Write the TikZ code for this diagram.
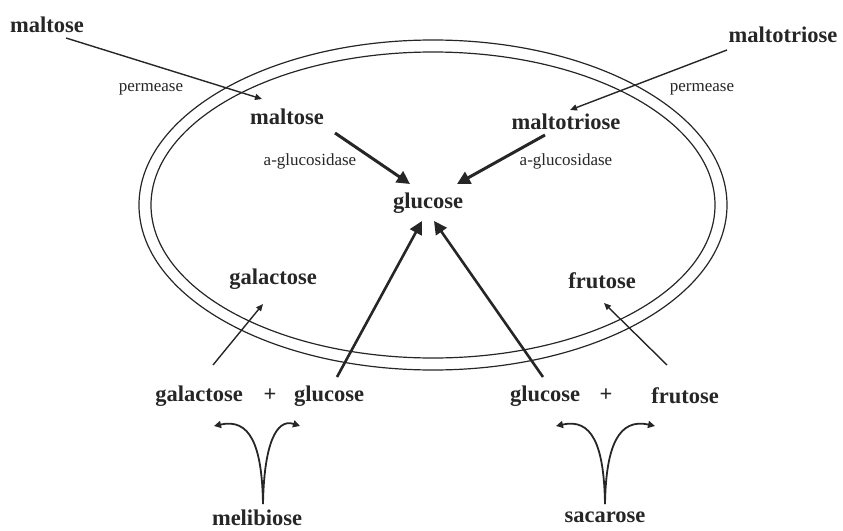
\documentclass[tikz,border=0pt]{standalone}
\usepackage{fontspec}
\setmainfont{Liberation Serif}
\usetikzlibrary{arrows.meta}
\definecolor{ink}{HTML}{262626}
\begin{document}
\begin{tikzpicture}[x=1pt,y=-1pt,
  sug/.style={font=\fontsize{22.5}{24}\selectfont\bfseries, text=ink, inner sep=0pt},
  enz/.style={font=\fontsize{17}{19}\selectfont, text=ink, inner sep=0pt},
  thinarr/.style={draw=ink, line width=1.4pt, -{Triangle[length=7pt,width=6pt]}},
  thickarr/.style={draw=ink, line width=3pt, -{Triangle[length=13pt,width=13pt]}},
  curvearr/.style={draw=ink, line width=1.8pt, -{Triangle[length=7pt,width=7pt]}},
  membrane/.style={draw=ink, line width=1.2pt}]
\useasboundingbox (0,0) rectangle (843,530);
% membrane
\draw[membrane] (433,205) ellipse [x radius=294, y radius=165];
\draw[membrane] (433,205) ellipse [x radius=282, y radius=153];
% texts
\node[sug] (mOut) at (47,25) {maltose};
\node[sug] (mtOut) at (783,35) {maltotriose};
\node[enz] (perL) at (151,89) {permease};
\node[enz] (perR) at (702,89) {permease};
\node[sug] (mIn) at (287,117) {maltose};
\node[sug] (mtIn) at (566,122) {maltotriose};
\node[enz] (gluL) at (310,161) {a-glucosidase};
\node[enz] (gluR) at (566,161) {a-glucosidase};
\node[sug] (glc) at (428,203) {glucose};
\node[sug] (galIn) at (273,279) {galactose};
\node[sug] (fruIn) at (602,281) {frutose};
\node[sug] (galOut) at (199,396) {galactose};
\node[sug] (plusL) at (270,395) {+};
\node[sug] (glcL) at (329,396) {glucose};
\node[sug] (glcR) at (545,396) {glucose};
\node[sug] (plusR) at (606,395) {+};
\node[sug] (fruOut) at (685,396) {frutose};
\node[sug] (mel) at (257,518) {melibiose};
\node[sug] (sac) at (605,517) {sacarose};
% connector end points
\coordinate (a1) at (66,38);   \coordinate (a2) at (262,99);
\coordinate (b1) at (727,50);  \coordinate (b2) at (570,110);
\coordinate (c1) at (335,133); \coordinate (c2) at (410,184);
\coordinate (d1) at (545,135); \coordinate (d2) at (457,184);
\coordinate (e1) at (337,377); \coordinate (e2) at (422,221);
\coordinate (f1) at (543,377); \coordinate (f2) at (434,221);
\coordinate (g1) at (213,365); \coordinate (g2) at (263,304);
\coordinate (h1) at (667,365); \coordinate (h2) at (604,303);
\coordinate (m0) at (263,504); \coordinate (mL) at (214,426); \coordinate (mR) at (300,426);
\coordinate (s0) at (605,504); \coordinate (sL) at (556,426); \coordinate (sR) at (655,426);
% connectors
\draw[thinarr] (a1) -- (a2);
\draw[thinarr] (b1) -- (b2);
\draw[thickarr] (c1) -- (c2);
\draw[thickarr] (d1) -- (d2);
\draw[thickarr, line width=2.6pt] (e1) -- (e2);
\draw[thickarr, line width=2.6pt] (f1) -- (f2);
\draw[thinarr] (g1) -- (g2);
\draw[thinarr] (h1) -- (h2);
\draw[curvearr] (m0) .. controls (262,445) and (250,418) .. (mL);
\draw[curvearr] (m0) .. controls (264,445) and (276,418) .. (mR);
\draw[curvearr] (s0) .. controls (604,445) and (592,418) .. (sL);
\draw[curvearr] (s0) .. controls (606,445) and (619,418) .. (sR);
\end{tikzpicture}
\end{document}
